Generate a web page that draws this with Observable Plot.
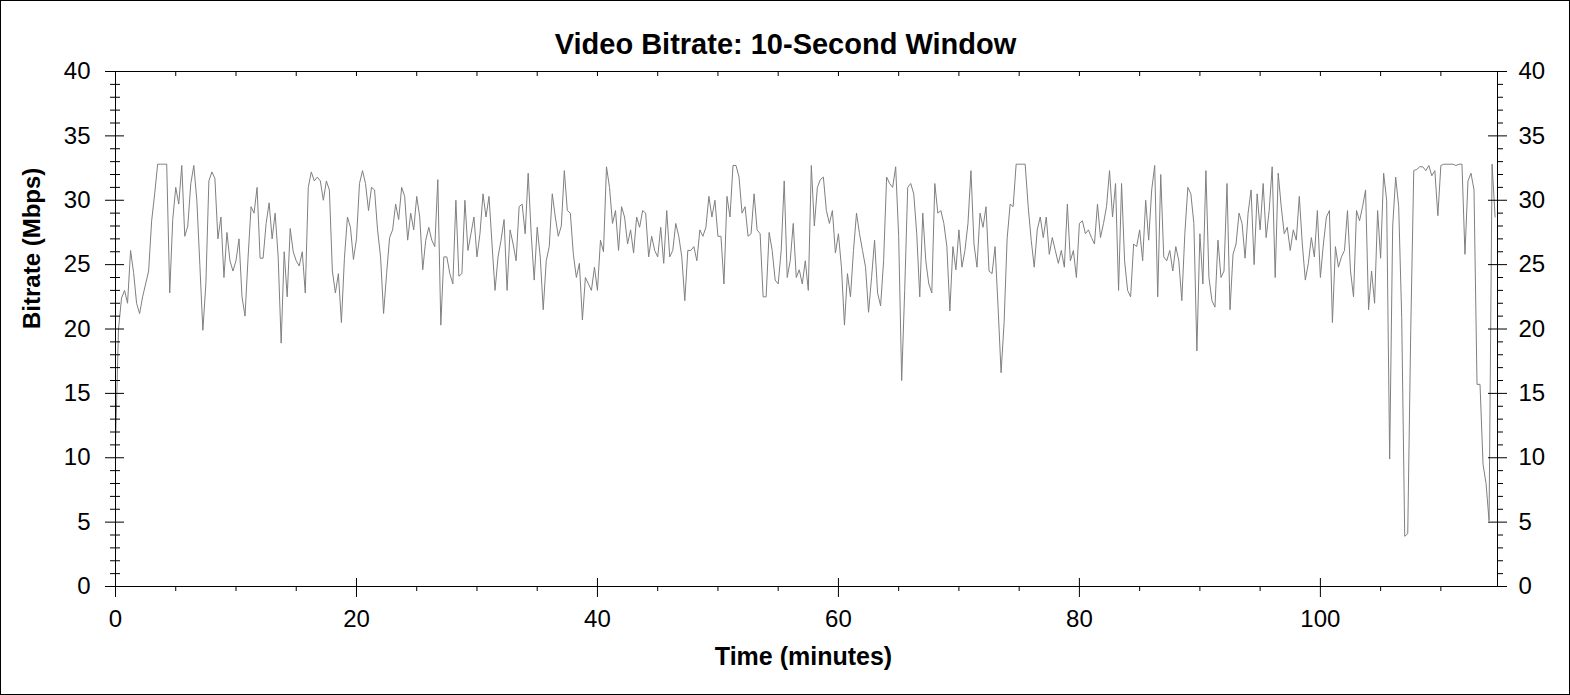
<!DOCTYPE html>
<html>
<head>
<meta charset="utf-8">
<script src="https://cdn.jsdelivr.net/npm/d3@7"></script>
<script src="https://cdn.jsdelivr.net/npm/@observablehq/plot@0.6"></script>
<style>
  body { margin: 0; background: white; }
  #chart svg { display: block; outline: 1px solid black; outline-offset: -1px; }
</style>
</head>
<body>
<div id="chart"></div>
<script>
// one reading every 15 seconds (0.25 min), values in Mbps
const stepMinutes = 0.25;
const mbps = [
  11, 20, 22.4, 23, 22, 26.1, 24.4, 22, 21.2, 22.5, 23.5, 24.5, 28.4, 30.5, 32.8, 32.8, 32.8, 32.8, 22.8, 28.5,
  31, 29.7, 32.7, 27.2, 28, 31.3, 32.7, 30, 25, 19.9, 23.5, 31.5, 32.2, 31.7, 27, 28.7, 24, 27.5, 25.3, 24.5,
  25.3, 27, 22.5, 21, 25.5, 29.5, 29, 31, 25.5, 25.5, 28.2, 29.8, 27, 29, 25.6, 18.9, 26, 22.5, 27.8, 26,
  25.3, 24.9, 26, 22.8, 31, 32.2, 31.5, 31.8, 31.5, 30, 31.5, 30.8, 24.5, 22.8, 24.3, 20.5, 25.5, 28.7, 27.9, 25.4,
  27, 31.3, 32.3, 31.3, 29.2, 31, 30.8, 27.7, 25.6, 21.2, 24.3, 27.1, 27.7, 29.7, 28.5, 31, 30.3, 26.9, 29, 27.7,
  30.3, 28.7, 24.6, 26.9, 27.9, 26.9, 26.4, 31.6, 20.3, 25.6, 25.6, 24.3, 23.5, 30, 24.1, 24.3, 30, 26.1, 27.4, 28.7,
  25.6, 27.4, 30.5, 28.7, 30.3, 26.6, 23, 25.6, 26.9, 28.5, 23, 27.7, 26.6, 25.3, 29.5, 29.7, 27.4, 32.1, 27.4, 23.8,
  27.9, 25.6, 21.5, 25.3, 26.4, 30.5, 28.7, 27.2, 28, 32.3, 29.2, 29, 25.8, 24, 25.1, 20.7, 24, 23.5, 23, 24.8,
  23, 26.9, 26, 32.6, 31, 28.2, 29.2, 26.1, 29.5, 28.7, 26.6, 27.7, 25.9, 28.7, 27.9, 29.2, 29, 25.6, 27.2, 26.1,
  25.6, 27.9, 25.1, 29.2, 25.6, 26.1, 28.2, 27.2, 25.6, 22.2, 26.1, 26.1, 26.4, 25.3, 27.7, 27.2, 27.9, 30.3, 28.7, 30,
  27.2, 27.2, 23.5, 30.3, 28.7, 32.7, 32.7, 31.8, 29, 29.5, 27.2, 27.4, 30.5, 27.7, 27.4, 22.5, 22.5, 27.5, 26.1, 23.8,
  23.5, 26.1, 31.5, 24, 25.3, 28.2, 24, 24.6, 23.5, 25.3, 23, 32.7, 28, 31, 31.6, 31.8, 29.2, 28.2, 29.2, 25.9,
  27.4, 24.8, 20.3, 24.3, 22.5, 26.1, 29, 27.4, 26.1, 24.8, 21.3, 24, 26.9, 22.8, 21.8, 25.3, 31.8, 31.3, 31, 32.6,
  27.2, 16, 23, 31, 31.3, 30.5, 27.4, 22.5, 29, 25.3, 23.5, 22.8, 31.3, 29, 29.2, 28.2, 26.4, 21.4, 26.4, 24.6,
  27.7, 24.8, 26.1, 28.2, 32.3, 26.6, 24.8, 29, 27.9, 29.5, 24.5, 24.3, 26.4, 21.7, 16.6, 20.5, 27, 29.7, 29.5, 32.8,
  32.8, 32.8, 32.8, 29.5, 26.9, 24.8, 27.7, 28.7, 27.1, 28.7, 25.8, 27.1, 26.1, 25.1, 26.1, 24.8, 29.7, 25.3, 26.1, 24,
  28.2, 28.4, 27.4, 27.7, 27.1, 26.6, 29.7, 27.1, 28.2, 29.5, 32.3, 28.7, 31.3, 23, 31.3, 25.3, 23, 22.5, 26.6, 26.4,
  27.7, 25.3, 30, 26.9, 30.8, 32.7, 22.5, 32, 25.6, 25.3, 26.1, 24.5, 26.4, 25.3, 22.2, 27.4, 31, 30.5, 28.2, 18.3,
  27.4, 23.5, 32.3, 24, 22.2, 21.7, 26.9, 24, 24.5, 31.3, 21.5, 25.8, 26.6, 29, 28.2, 25.5, 29, 30.8, 25, 30.5,
  27.7, 31.3, 27.1, 29.2, 32.6, 24, 32.1, 29.5, 27.4, 27.9, 26.1, 27.7, 26.9, 30.3, 26.6, 23.8, 25.1, 27.1, 25.6, 29.2,
  24, 26.6, 28.7, 29.2, 20.5, 26.4, 24.8, 25.6, 26.1, 29.2, 24.5, 22.5, 29.2, 28.4, 29.5, 30.8, 21.5, 24.5, 22, 29.2,
  25.5, 32.1, 30, 9.9, 28, 31.8, 29.5, 20.9, 3.9, 4.1, 19.9, 32.3, 32.4, 32.6, 32.6, 32.3, 32.7, 31.9, 32.3, 28.8,
  32.7, 32.8, 32.8, 32.8, 32.8, 32.7, 32.8, 32.8, 25.8, 31.5, 32.1, 30.8, 15.7, 15.7, 9.5, 8, 5.1, 32.8, 28.7
];

const yMajor = d3.range(0, 41, 5);
const yMinor = d3.range(0, 41, 1).filter(d => d % 5 !== 0);
const xMajor = [0, 20, 40, 60, 80, 100];
const xMinor = d3.range(0, 115, 5).filter(d => d % 20 !== 0);
const xTop = d3.range(0, 115, 5);

const data = mbps.map((v, i) => ({minutes: i * stepMinutes, mbps: v}));

const W = 1570, H = 695;
const mL = 115, mR = 73, mT = 71, mB = 109;
const iw = W - mL - mR, ih = H - mT - mB;

const chart = Plot.plot({
  width: W,
  height: H,
  marginLeft: mL,
  marginRight: mR,
  marginTop: mT,
  marginBottom: mB,
  style: {fontFamily: "'Liberation Sans', Arial, sans-serif", fontSize: "24px", color: "black", background: "white"},
  x: {domain: [0, 114.7]},
  y: {domain: [0, 40]},
  marks: [
    Plot.line(data, {x: "minutes", y: "mbps", stroke: "#808080", strokeWidth: 1}),
    Plot.frame({stroke: "black"}),
    // left ticks
    Plot.tickY(yMajor, {y: d => d, stroke: "black", insetLeft: -10, insetRight: iw - 9}),
    Plot.tickY(yMinor, {y: d => d, stroke: "black", insetLeft: -5, insetRight: iw - 5}),
    // right ticks
    Plot.tickY(yMajor, {y: d => d, stroke: "black", insetLeft: iw - 9, insetRight: -10}),
    Plot.tickY(yMinor, {y: d => d, stroke: "black", insetLeft: iw, insetRight: -6}),
    // bottom ticks
    Plot.tickX(xMajor, {x: d => d, stroke: "black", insetTop: ih - 8, insetBottom: -11}),
    Plot.tickX(xMinor, {x: d => d, stroke: "black", insetTop: ih, insetBottom: -5}),
    // top ticks
    Plot.tickX(xTop, {x: d => d, stroke: "black", insetTop: 0, insetBottom: ih - 5}),
    Plot.axisY(yMajor, {anchor: "left", tickSize: 0, tickPadding: 25, label: null, fontSize: 24}),
    Plot.axisY(yMajor, {anchor: "right", tickSize: 0, tickPadding: 21, label: null, fontSize: 24}),
    Plot.axisX(xMajor, {anchor: "bottom", tickSize: 0, tickPadding: 23, label: null, fontSize: 24}),
    Plot.text(["Video Bitrate: 10-Second Window"], {frameAnchor: "top", dx: -21, dy: -38, fontWeight: "bold", fontSize: 29}),
    Plot.text(["Time (minutes)"], {frameAnchor: "bottom", dx: -3, dy: 78, fontWeight: "bold", fontSize: 25}),
    Plot.text(["Bitrate (Mbps)"], {frameAnchor: "left", dx: -83, rotate: -90, fontWeight: "bold", fontSize: 24})
  ]
});

document.getElementById("chart").append(chart);
</script>
</body>
</html>
